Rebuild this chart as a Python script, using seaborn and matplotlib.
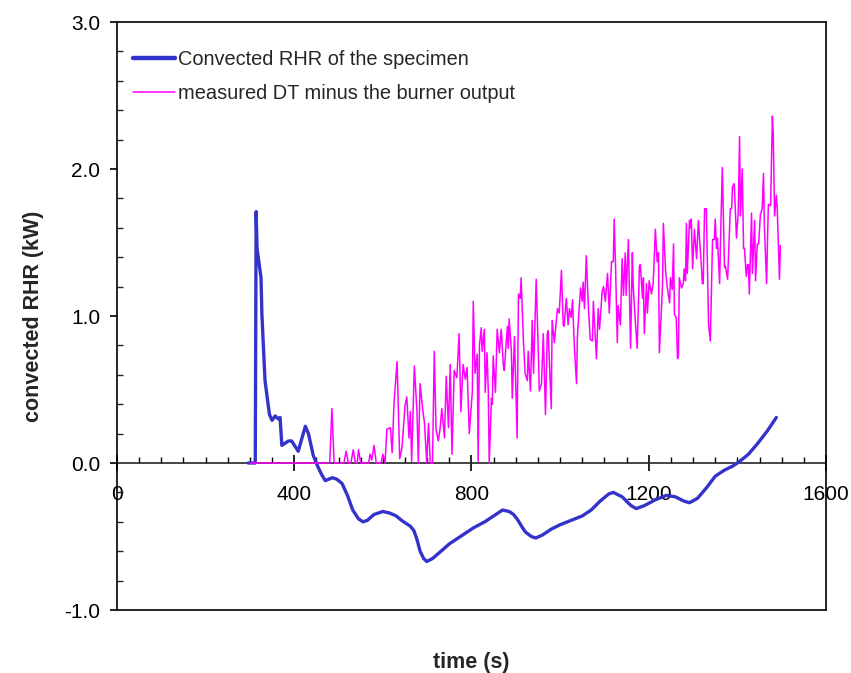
import pandas as pd
import numpy as np
import matplotlib
matplotlib.use('Agg')
import matplotlib.pyplot as plt
import seaborn as sns
from matplotlib.ticker import MultipleLocator, FormatStrFormatter


# Convected RHR of the specimen
rhr_time = [296, 312, 314, 316, 321, 325, 327, 334, 344, 350, 357, 364, 368, 372,
            387, 394, 409, 425, 432, 443, 454, 462, 470, 478, 486, 496, 508, 520,
            532, 545, 555, 565, 580, 600, 615, 630, 642, 652, 662, 670, 677, 684,
            692, 699, 712, 735, 750, 775, 805, 830, 855, 870, 885, 895, 905, 915,
            922, 935, 945, 960, 980, 1000, 1025, 1050, 1070, 1090, 1110, 1120, 1140,
            1160, 1172, 1190, 1215, 1240, 1260, 1280, 1292, 1310, 1330, 1350, 1370,
            1390, 1405, 1425, 1445, 1468, 1488]
rhr_value = [0.0, 0.0, 1.71, 1.46, 1.35, 1.26, 1.01, 0.56, 0.33, 0.29, 0.32, 0.30, 0.31, 0.12,
             0.15, 0.15, 0.08, 0.25, 0.20, 0.05, -0.03, -0.08, -0.12, -0.11, -0.10, -0.11, -0.14, -0.22,
             -0.32, -0.38, -0.40, -0.39, -0.35, -0.33, -0.34, -0.36, -0.39, -0.41, -0.43, -0.46, -0.52, -0.60,
             -0.65, -0.67, -0.65, -0.59, -0.55, -0.50, -0.44, -0.40, -0.35, -0.32, -0.33, -0.35, -0.39, -0.44,
             -0.47, -0.50, -0.51, -0.49, -0.45, -0.42, -0.39, -0.36, -0.32, -0.26, -0.21, -0.20, -0.23,
             -0.29, -0.31, -0.29, -0.25, -0.22, -0.23, -0.26, -0.27, -0.24, -0.17, -0.09, -0.05,
             -0.02, 0.01, 0.06, 0.13, 0.22, 0.31]

# measured DT minus the burner output
dt_time = [300, 480, 485, 490, 512, 517, 522, 528, 533, 538, 542, 545, 550, 568, 571, 575,
           580, 585, 596, 600, 605, 609, 617, 621, 625, 632, 638, 643, 650, 654, 659, 662,
           665, 671, 677, 680, 684, 690, 694, 699, 703, 707, 712, 716, 720, 725, 729, 733,
           739, 743, 748, 752, 756, 761, 767, 772, 776, 781, 786, 790, 795, 802, 804, 808,
           813, 815, 818, 822, 824, 829, 831, 835, 838, 840, 845, 847, 849, 854, 858, 863,
           867, 872, 874, 881, 883, 885, 890, 892, 897, 903, 906, 910, 912, 917, 921, 926,
           928, 933, 937, 940, 946, 951, 953, 958, 962, 967, 971, 973, 980, 982, 987, 994,
           998, 1003, 1007, 1009, 1014, 1018, 1021, 1025, 1028, 1032, 1037, 1039, 1046, 1050,
           1052, 1055, 1059, 1064, 1068, 1073, 1075, 1082, 1086, 1089, 1095, 1098, 1102, 1107,
           1111, 1116, 1120, 1122, 1125, 1129, 1131, 1136, 1140, 1143, 1147, 1149, 1154, 1159,
           1163, 1165, 1170, 1174, 1179, 1181, 1186, 1188, 1190, 1195, 1197, 1201, 1206, 1210,
           1215, 1219, 1222, 1224, 1231, 1233, 1238, 1242, 1247, 1249, 1253, 1256, 1258, 1262,
           1265, 1267, 1269, 1274, 1278, 1280, 1283, 1285, 1287, 1292, 1294, 1296, 1299, 1303,
           1308, 1312, 1319, 1321, 1323, 1326, 1330, 1335, 1339, 1344, 1348, 1350, 1353, 1355,
           1360, 1362, 1366, 1371, 1373, 1378, 1380, 1384, 1387, 1389, 1393, 1398, 1402, 1405,
           1407, 1411, 1414, 1416, 1420, 1423, 1425, 1427, 1432, 1434, 1439, 1441, 1445, 1448,
           1452, 1456, 1459, 1461, 1466, 1468, 1470, 1475, 1479, 1481, 1484, 1488, 1490, 1495,
           1497]
dt_value = [0.0, 0.0, 0.37, 0.0, 0.0, 0.08, 0.0, 0.0, 0.09, 0.0, 0.0, 0.09, 0.0, 0.0, 0.06, 0.02,
            0.12, 0.0, 0.0, 0.06, 0.0, 0.23, 0.24, 0.07, 0.40, 0.69, 0.03, 0.10, 0.39, 0.45, 0.17, 0.35,
            0.01, 0.66, 0.35, 0.0, 0.54, 0.36, 0.27, 0.0, 0.27, 0.0, 0.0, 0.76, 0.23, 0.15, 0.23, 0.37,
            0.17, 0.59, 0.24, 0.67, 0.06, 0.63, 0.58, 0.88, 0.35, 0.67, 0.57, 0.65, 0.20, 0.49, 1.10, 0.61,
            0.74, 0.01, 0.80, 0.92, 0.76, 0.91, 0.48, 0.75, 0.48, 0.0, 0.44, 0.40, 0.73, 0.48, 0.91, 0.75,
            0.91, 0.66, 0.63, 0.93, 0.78, 0.98, 0.76, 0.44, 0.86, 0.17, 1.15, 1.12, 1.26, 0.84, 0.61, 0.56,
            0.76, 0.49, 0.97, 0.61, 1.25, 0.73, 0.49, 0.54, 0.88, 0.33, 0.88, 0.90, 0.37, 0.97, 0.82, 1.05,
            1.02, 1.31, 0.94, 0.93, 1.12, 0.94, 1.05, 0.99, 1.11, 0.80, 0.54, 0.86, 1.19, 1.10,
            1.23, 1.05, 1.41, 1.05, 0.84, 0.83, 1.10, 0.71, 1.05, 0.91, 1.17, 1.20, 1.10, 1.29,
            1.02, 1.37, 1.37, 1.66, 1.35, 0.82, 1.07, 0.94, 1.39, 1.14, 1.43, 1.14, 1.52, 0.78,
            1.43, 1.20, 0.95, 0.78, 1.34, 1.35, 1.12, 1.26, 0.88, 1.22, 1.02, 1.24, 1.15, 1.22,
            1.59, 1.37, 1.43, 0.75, 1.20, 1.63, 1.31, 1.19, 1.09, 1.26, 1.18, 1.49, 1.01, 0.99,
            0.71, 0.73, 1.26, 1.19, 1.22, 1.32, 1.24, 1.63, 1.29, 1.65, 1.60, 1.66, 1.32, 1.59,
            1.39, 1.65, 1.33, 1.22, 1.22, 1.73, 1.73, 0.94, 0.83, 1.52, 1.52, 1.66, 1.46, 1.53,
            1.22, 1.51, 2.01, 1.33, 1.34, 1.25, 1.40, 1.73, 1.73, 1.88, 1.90, 1.53, 1.71, 2.22,
            1.68, 2.00, 1.46, 1.46, 1.27, 1.35, 1.35, 1.15, 1.70, 1.29, 1.65, 1.24, 1.49, 1.49,
            1.69, 1.73, 1.97, 1.61, 1.22, 1.51, 1.76, 1.75, 2.36, 2.24, 1.68, 1.82, 1.73, 1.25,
            1.48]

rhr_df = pd.DataFrame({'time': rhr_time, 'value': rhr_value})
dt_df = pd.DataFrame({'time': dt_time, 'value': dt_value})

sns.set_style('ticks')
plt.rcParams['font.family'] = ['Liberation Sans', 'DejaVu Sans']
plt.rcParams['axes.unicode_minus'] = False

fig = plt.figure(figsize=(8.51, 6.73), dpi=100)
ax = fig.add_axes([0.1375, 0.0936, 0.8331, 0.8737])

sns.lineplot(data=rhr_df, x='time', y='value', ax=ax, color='#3333cc', lw=2.4,
             estimator=None, label='Convected RHR of the specimen',
             solid_joinstyle='round', solid_capstyle='round')
sns.lineplot(data=dt_df, x='time', y='value', ax=ax, color='#ff00ff', lw=1.1,
             estimator=None, label='measured DT minus the burner output')

ax.set_xlim(0, 1600)
ax.set_ylim(-1.0, 3.0)

for s in ax.spines.values():
    s.set_color('black')
    s.set_linewidth(1.2)

# main x-axis has no ticks; the tick axis sits at y = 0
ax.tick_params(axis='x', bottom=False, labelbottom=False)
sec = ax.secondary_xaxis(0.25)
sec.set_xticks([0, 400, 800, 1200, 1600])
sec.xaxis.set_minor_locator(MultipleLocator(50))
sec.spines['bottom'].set_linewidth(1.2)
sec.tick_params(which='major', direction='inout', length=11, width=1.2,
                labelsize=15, pad=10, colors='black')
sec.tick_params(which='minor', direction='in', length=4.5, width=1.0, colors='black')

ax.yaxis.set_major_locator(MultipleLocator(1.0))
ax.yaxis.set_minor_locator(MultipleLocator(0.2))
ax.yaxis.set_major_formatter(FormatStrFormatter('%.1f'))
ax.tick_params(axis='y', which='major', direction='out', length=5, width=1.2,
               labelsize=15, pad=7, colors='black')
ax.tick_params(axis='y', which='minor', direction='in', length=4.5, width=1.0, left=True)

ax.set_xlabel('time (s)', fontsize=15.5, fontweight='bold', labelpad=30)
ax.set_ylabel('convected RHR (kW)', fontsize=15.5, fontweight='bold', labelpad=15)

leg = ax.legend(loc='upper left', bbox_to_anchor=(0.022, 0.952), frameon=False,
                fontsize=14.4, handlelength=2.1, handletextpad=0.15,
                labelspacing=0.75, borderpad=0, borderaxespad=0)
leg.get_lines()[0].set_linewidth(3.2)
leg.get_lines()[1].set_linewidth(1.1)

fig.savefig('out.png', dpi=100)
